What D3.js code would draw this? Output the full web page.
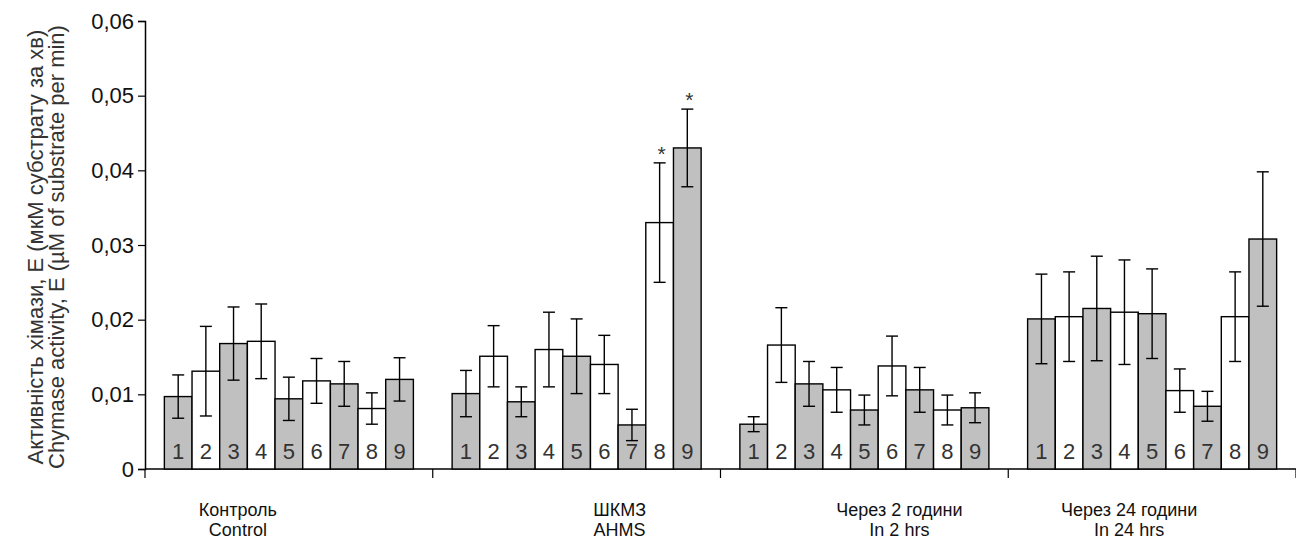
<!DOCTYPE html>
<html>
<head>
<meta charset="utf-8">
<script src="https://cdn.jsdelivr.net/npm/d3@7"></script>
<style>
  body { margin: 0; background: #fff; }
  svg text { font-family: "Liberation Sans", Arial, sans-serif; }
</style>
</head>
<body>
<div id="chart"></div>
<script>
// Data
const groupUa = ["Контроль", "ШКМЗ", "Через 2 години", "Через 24 години"];
const groupEn = ["Control", "AHMS", "In 2 hrs", "In 24 hrs"];
const barIds = ["1", "2", "3", "4", "5", "6", "7", "8", "9"];

const control    = [0.0097, 0.0131, 0.0168, 0.0171, 0.0094, 0.0118, 0.0114, 0.0081, 0.0120];
const controlErr = [0.0029, 0.0060, 0.0049, 0.0050, 0.0029, 0.0030, 0.0030, 0.0021, 0.0029];
const ahms       = [0.0101, 0.0151, 0.0090, 0.0160, 0.0151, 0.0140, 0.0059, 0.0330, 0.0430];
const ahmsErr    = [0.0031, 0.0041, 0.0020, 0.0050, 0.0050, 0.0039, 0.0021, 0.0080, 0.0052];
const in2        = [0.0060, 0.0166, 0.0114, 0.0106, 0.0079, 0.0138, 0.0106, 0.0079, 0.0082];
const in2Err     = [0.0010, 0.0050, 0.0030, 0.0030, 0.0020, 0.0040, 0.0030, 0.0020, 0.0020];
const in24       = [0.0201, 0.0204, 0.0215, 0.0210, 0.0208, 0.0105, 0.0084, 0.0204, 0.0308];
const in24Err    = [0.0060, 0.0060, 0.0070, 0.0070, 0.0060, 0.0029, 0.0020, 0.0060, 0.0090];
// bars marked with * (p < 0.05)
const marked = [[], ["8", "9"], [], []];

const yTicks = [0, 0.01, 0.02, 0.03, 0.04, 0.05, 0.06];

const values = [control, ahms, in2, in24];
const errors = [controlErr, ahmsErr, in2Err, in24Err];

// Layout
const width = 1296, height = 544;
const margin = { top: 21, right: 0, bottom: 75, left: 145 };
const labelShift = [-51, 43, 35, -23]; // category captions sit off-centre in the original

const svg = d3.select('#chart').append('svg')
    .attr('width', width)
    .attr('height', height);

const x0 = d3.scaleBand()
    .domain(groupUa)
    .range([margin.left, width - margin.right])
    .padding(0);

const x1 = d3.scaleBand()
    .domain(barIds)
    .range([0, x0.bandwidth()])
    .paddingInner(0)
    .paddingOuter(0.7);

const y = d3.scaleLinear()
    .domain([0, 0.06])
    .range([height - margin.bottom, margin.top]);

const locale = d3.formatLocale({ decimal: ",", thousands: " ", grouping: [3], currency: ["", ""] });
const fmt = locale.format(".2f");

// Y axis
const yAxis = svg.append('g')
    .attr('transform', `translate(${margin.left},0)`)
    .call(d3.axisLeft(y).tickValues(yTicks).tickSize(7).tickPadding(4)
        .tickFormat(d => d === 0 ? "0" : fmt(d)));
yAxis.select('.domain').attr('stroke', '#000').attr('stroke-width', 1.5);
yAxis.selectAll('.tick line').attr('stroke', '#000').attr('stroke-width', 1.2);
yAxis.selectAll('.tick text')
    .style('font-size', '22px')
    .attr('fill', '#111');

// Y title
const yTitle = svg.append('text')
    .attr('transform', `translate(43,247) rotate(-90)`)
    .attr('text-anchor', 'middle')
    .style('font-size', '22px')
    .attr('fill', '#333');
yTitle.append('tspan').attr('x', 0).attr('dy', 0).text('Активність хімази, Е (мкМ субстрату за хв)');
yTitle.append('tspan').attr('x', 0).attr('dy', 21).text('Chymase activity, E (µM of substrate per min)');

// X axis
const xAxisY = y(0);
svg.append('line')
    .attr('x1', margin.left).attr('x2', width)
    .attr('y1', xAxisY).attr('y2', xAxisY)
    .attr('stroke', '#000').attr('stroke-width', 1.5);

const boundaries = groupUa.map(g => x0(g)).concat([x0(groupUa[groupUa.length - 1]) + x0.bandwidth()]);
svg.selectAll('.xtick')
    .data(boundaries)
    .enter()
    .append('line')
    .attr('class', 'xtick')
    .attr('x1', d => d).attr('x2', d => d)
    .attr('y1', xAxisY).attr('y2', xAxisY + 9)
    .attr('stroke', '#000').attr('stroke-width', 1.2);

// Category labels
const cats = svg.selectAll('.cat')
    .data(groupUa)
    .enter()
    .append('text')
    .attr('class', 'cat')
    .attr('text-anchor', 'middle')
    .attr('x', (d, i) => x0(d) + x0.bandwidth() / 2 + labelShift[i])
    .attr('y', 516)
    .style('font-size', '18px')
    .attr('fill', '#111');
cats.append('tspan').text(d => d);
cats.append('tspan')
    .attr('x', (d, i) => x0(d) + x0.bandwidth() / 2 + labelShift[i])
    .attr('dy', 20)
    .text((d, i) => groupEn[i]);

// Bars
const groupG = svg.selectAll('.group')
    .data(groupUa)
    .enter()
    .append('g')
    .attr('class', 'group')
    .attr('transform', d => `translate(${x0(d)},0)`);

const bars = groupG.selectAll('.bar')
    .data((d, gi) => barIds.map((id, i) => ({
        id: id,
        value: values[gi][i],
        err: errors[gi][i],
        star: marked[gi].includes(id),
        odd: i % 2 === 0
    })))
    .enter()
    .append('g')
    .attr('class', 'bar');

bars.append('rect')
    .attr('x', d => x1(d.id))
    .attr('y', d => y(d.value))
    .attr('width', x1.bandwidth())
    .attr('height', d => y(0) - y(d.value))
    .attr('fill', d => d.odd ? '#c0c0c0' : '#ffffff')
    .attr('stroke', '#000')
    .attr('stroke-width', 1.4);

bars.append('text')
    .attr('x', d => x1(d.id) + x1.bandwidth() / 2)
    .attr('y', y(0) - 10)
    .attr('text-anchor', 'middle')
    .style('font-size', '22px')
    .attr('fill', '#333')
    .text(d => d.id);

// Error bars
const cx = d => x1(d.id) + x1.bandwidth() / 2;
bars.append('line')
    .attr('x1', cx).attr('x2', cx)
    .attr('y1', d => y(d.value + d.err))
    .attr('y2', d => y(d.value - d.err))
    .attr('stroke', '#000').attr('stroke-width', 1.4);
bars.append('line')
    .attr('x1', d => cx(d) - 6).attr('x2', d => cx(d) + 6)
    .attr('y1', d => y(d.value + d.err)).attr('y2', d => y(d.value + d.err))
    .attr('stroke', '#000').attr('stroke-width', 1.4);
bars.append('line')
    .attr('x1', d => cx(d) - 6).attr('x2', d => cx(d) + 6)
    .attr('y1', d => y(d.value - d.err)).attr('y2', d => y(d.value - d.err))
    .attr('stroke', '#000').attr('stroke-width', 1.4);

// Significance marks
bars.filter(d => d.star)
    .append('text')
    .attr('x', d => cx(d) + 2)
    .attr('y', d => y(d.value + d.err) - 2)
    .attr('text-anchor', 'middle')
    .style('font-size', '21px')
    .attr('fill', '#333')
    .text('*');
</script>
</body>
</html>
